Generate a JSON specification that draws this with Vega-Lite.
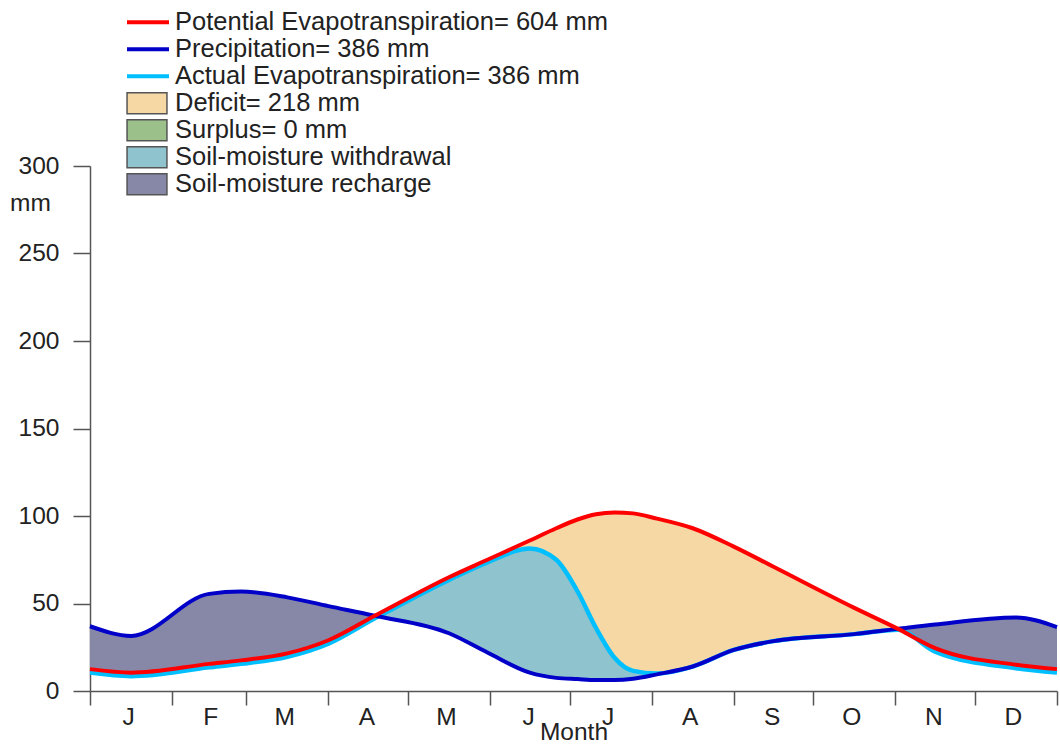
{
  "$schema": "https://vega.github.io/schema/vega-lite/v6.json",
  "autosize": "none",
  "width": 967,
  "height": 525,
  "padding": {"left": 90, "top": 166, "right": 3, "bottom": 55},
  "background": "white",
  "data": {"values": [
    {"day": 0, "P": 37, "PET": 12.5, "AET": 10.5},
    {"day": 15.5, "P": 31.5, "PET": 10.5, "AET": 8.5},
    {"day": 45, "P": 55.5, "PET": 15.5, "AET": 13.5},
    {"day": 57, "P": 56.8, "PET": 17.5, "AET": 15.5},
    {"day": 74.5, "P": 53.5, "PET": 21.5, "AET": 19.5},
    {"day": 90, "P": 48.5, "PET": 29, "AET": 27},
    {"day": 107.5, "P": 43, "PET": 43, "AET": 41.5},
    {"day": 135.5, "P": 33, "PET": 65, "AET": 63.5},
    {"day": 150, "P": 22, "PET": 75, "AET": 73.5},
    {"day": 166, "P": 10.5, "PET": 86, "AET": 81.5},
    {"day": 176, "P": 7.5, "PET": 93, "AET": 75},
    {"day": 184, "P": 6.8, "PET": 98, "AET": 57},
    {"day": 191, "P": 6.3, "PET": 101, "AET": 36},
    {"day": 198, "P": 6.3, "PET": 102, "AET": 19},
    {"day": 205, "P": 7, "PET": 101.5, "AET": 11.5},
    {"day": 214, "P": 9.5, "PET": 98.5, "AET": 10},
    {"day": 227.5, "P": 14, "PET": 93, "AET": 14},
    {"day": 243, "P": 23.5, "PET": 82.5, "AET": 23.5},
    {"day": 258, "P": 28.5, "PET": 71, "AET": 28.5},
    {"day": 288.5, "P": 32.5, "PET": 47.5, "AET": 32.5},
    {"day": 305, "P": 35.5, "PET": 35.5, "AET": 35},
    {"day": 319, "P": 38, "PET": 24.5, "AET": 22.5},
    {"day": 349.5, "P": 42, "PET": 15, "AET": 13},
    {"day": 365, "P": 36.5, "PET": 12.5, "AET": 10.5}
  ]},
  "encoding": {
    "x": {
      "field": "day", "type": "quantitative",
      "scale": {"domain": [0, 365], "nice": false, "zero": false},
      "axis": {
        "values": [0, 31, 59, 90, 120, 151, 181, 212, 243, 273, 304, 334, 365],
        "labelExpr": "['J','F','M','A','M','J','J','A','S','O','N','D',''][indexof([0,31,59,90,120,151,181,212,243,273,304,334,365], datum.value)]",
        "labelOffset": 38, "tickSize": 14, "labelFontSize": 24.5, "labelPadding": 0,
        "labelOverlap": false, "labelBound": false, "labelFlush": false,
        "title": "Month", "titleFontSize": 24.5, "titlePadding": -8
      }
    }
  },
  "layer": [
    {
      "transform": [{"filter": "datum.day <= 107.5"}],
      "mark": {"type": "area", "interpolate": "monotone", "opacity": 1},
      "encoding": {
        "y": {"field": "P", "type": "quantitative", "scale": {"domain": [0, 300], "nice": false},
              "axis": {"title": "mm", "values": [0, 50, 100, 150, 200, 250, 300]}},
        "y2": {"field": "PET"},
        "fill": {"datum": "Soil-moisture recharge", "type": "nominal"}
      }
    },
    {
      "transform": [{"filter": "datum.day >= 305"}],
      "mark": {"type": "area", "interpolate": "monotone", "opacity": 1},
      "encoding": {
        "y": {"field": "P", "type": "quantitative", "axis": {"title": "mm", "values": [0, 50, 100, 150, 200, 250, 300]}},
        "y2": {"field": "PET"},
        "fill": {"datum": "Soil-moisture recharge", "type": "nominal"}
      }
    },
    {
      "transform": [{"filter": "datum.day >= 107.5 && datum.day <= 305"}],
      "mark": {"type": "area", "interpolate": "monotone", "opacity": 1},
      "encoding": {
        "y": {"field": "AET", "type": "quantitative", "axis": {"title": "mm", "values": [0, 50, 100, 150, 200, 250, 300]}},
        "y2": {"field": "P"},
        "fill": {"datum": "Soil-moisture withdrawal", "type": "nominal"}
      }
    },
    {
      "transform": [{"filter": "datum.day >= 107.5 && datum.day <= 305"}],
      "mark": {"type": "area", "interpolate": "monotone", "opacity": 1},
      "encoding": {
        "y": {"field": "PET", "type": "quantitative", "axis": {"title": "mm", "values": [0, 50, 100, 150, 200, 250, 300]}},
        "y2": {"field": "AET"},
        "fill": {
          "datum": "Deficit= 218 mm", "type": "nominal",
          "scale": {
            "domain": ["Deficit= 218 mm", "Surplus= 0 mm", "Soil-moisture withdrawal", "Soil-moisture recharge"],
            "range": ["#f5d8a4", "#9bc08a", "#8fc3cd", "#8788a8"]
          },
          "legend": {
            "orient": "none", "legendX": 35, "legendY": -76, "title": null, "padding": 0,
            "symbolType": "M-0.95,-0.5H0.95V0.5H-0.95Z", "symbolSize": 1764,
            "symbolStrokeColor": "#555555", "symbolStrokeWidth": 1.5, "symbolOpacity": 1,
            "labelFontSize": 25.5, "labelOffset": 6, "labelColor": "#222222", "labelLimit": 800,
            "clipHeight": 26.5, "rowPadding": 0
          }
        }
      }
    },
    {
      "mark": {"type": "line", "interpolate": "monotone", "strokeWidth": 4.5},
      "encoding": {
        "y": {"field": "AET", "type": "quantitative", "axis": {"title": "mm", "values": [0, 50, 100, 150, 200, 250, 300]}},
        "stroke": {"datum": "Actual Evapotranspiration= 386 mm", "type": "nominal"}
      }
    },
    {
      "mark": {"type": "line", "interpolate": "monotone", "strokeWidth": 4},
      "encoding": {
        "y": {"field": "P", "type": "quantitative", "axis": {"title": "mm", "values": [0, 50, 100, 150, 200, 250, 300]}},
        "stroke": {"datum": "Precipitation= 386 mm", "type": "nominal"}
      }
    },
    {
      "mark": {"type": "line", "interpolate": "monotone", "strokeWidth": 4},
      "encoding": {
        "y": {"field": "PET", "type": "quantitative", "axis": {"title": "mm", "values": [0, 50, 100, 150, 200, 250, 300]}},
        "stroke": {
          "datum": "Potential Evapotranspiration= 604 mm", "type": "nominal",
          "scale": {
            "domain": ["Potential Evapotranspiration= 604 mm", "Precipitation= 386 mm", "Actual Evapotranspiration= 386 mm"],
            "range": ["#ff0000", "#0000c8", "#00bfff"]
          },
          "legend": {
            "orient": "none", "legendX": 35, "legendY": -157, "title": null, "padding": 0,
            "symbolType": "stroke", "symbolSize": 1764, "symbolStrokeWidth": 4,
            "labelFontSize": 25.5, "labelOffset": 4, "labelColor": "#222222", "labelLimit": 800,
            "clipHeight": 26.7, "rowPadding": 0
          }
        }
      }
    }
  ],
  "config": {
    "view": {"stroke": null},
    "font": "Liberation Sans",
    "axis": {
      "grid": false, "domainColor": "#555555", "tickColor": "#555555", "domainWidth": 1.5, "tickWidth": 1.5,
      "labelColor": "#222222", "titleColor": "#222222", "titleFontWeight": "normal",
      "labelFont": "Liberation Sans", "titleFont": "Liberation Sans"
    },
    "axisY": {
      "tickSize": 17, "labelFontSize": 24.5, "labelPadding": 14, "labelBound": false, "labelFlush": false,
      "titleAngle": 0, "titleX": -60, "titleY": 37, "titleAlign": "center", "titleBaseline": "middle", "titleFontSize": 24.5
    },
    "legend": {"labelFont": "Liberation Sans"}
  }
}
